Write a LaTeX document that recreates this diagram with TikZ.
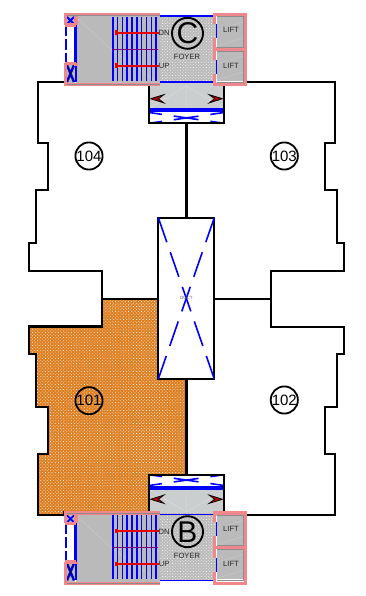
\documentclass[tikz,border=0pt]{standalone}
\usepackage{fontspec}
\setmainfont{Liberation Sans}
\usetikzlibrary{patterns.meta}
\definecolor{pinkwall}{RGB}{240,135,140}
\definecolor{coregrey}{RGB}{186,186,186}
\definecolor{lobbygrey}{RGB}{202,206,206}
\definecolor{floorbrown}{RGB}{222,125,30}

\begin{document}
\begin{tikzpicture}[x=1pt, y=-1pt,
    wall/.style={line width=2.1pt, line join=miter},
    flat/.style={pattern={Dots[distance=2.3pt, radius=0.55pt, angle=45]}, pattern color=white},
    stairline/.style={blue, line width=1.6pt},
    pinkline/.style={pinkwall, line width=3.2pt},
    ghost/.style={white!25!coregrey, line width=0.4pt},
    xdash/.style={blue, line width=1.6pt},
    flatno/.style={circle, draw, line width=1.8pt, minimum size=25pt, inner sep=0pt, font=\fontsize{15}{15}\selectfont},
    tiny/.style={inner sep=0pt, text=black!85, font=\fontsize{7.6}{7.6}\selectfont}]
    \useasboundingbox (0,0) rectangle (366,596);

    % flat 101
    \fill[floorbrown] (102,299) -- (158,299) -- (158,379) -- (186.5,379) -- (186.5,474) -- (149,474) -- (149,512) -- (64,512) -- (64,515) -- (38.3,515) -- (38.3,454) -- (48,454) -- (48,407.3) -- (35.7,407.3) -- (35.7,354.3) -- (28.7,354.3) -- (28.7,326.5) -- (102,326.5) -- cycle;
    \fill[flat] (102,299) -- (158,299) -- (158,379) -- (186.5,379) -- (186.5,474) -- (149,474) -- (149,512) -- (64,512) -- (64,515) -- (38.3,515) -- (38.3,454) -- (48,454) -- (48,407.3) -- (35.7,407.3) -- (35.7,354.3) -- (28.7,354.3) -- (28.7,326.5) -- (102,326.5) -- cycle;

    % outer walls
    \draw[wall] (64,82.3) -- (38.3,82.3) -- (38.3,143) -- (48,143) -- (48,190) -- (35.7,190) -- (35.7,242.7) -- (28.7,242.7) -- (28.7,270.7) -- (102,270.7) -- (102,299) -- (158,299);
    \draw[wall] (158,379) -- (186.5,379) -- (186.5,474) (149,474) -- (149,512) -- (64,512) -- (64,515) -- (38.3,515) -- (38.3,454) -- (48,454) -- (48,407.3) -- (35.7,407.3) -- (35.7,354.3) -- (28.7,354.3) -- (28.7,326.5) -- (102,326.5) -- (102,299);
    \draw[wall] (246,82.3) -- (335,82.3) -- (335,143) -- (325,143) -- (325,190) -- (337.3,190) -- (337.3,242.7) -- (344.3,242.7) -- (344.3,270.7) -- (271,270.7) -- (271,326.7) -- (344.3,326.7) -- (344.3,354) -- (337.3,354) -- (337.3,407.3) -- (325,407.3) -- (325,454) -- (335,454) -- (335,515) -- (224,515);
    \draw[wall] (214.3,299) -- (271,299);
    \draw[wall] (186.5,123.3) -- (186.5,218);

    % duct
    \node[draw, line width=1.7pt, minimum width=56pt, minimum height=161.3pt, inner sep=0pt, outer sep=0pt] (duct) at (186.3,298.3) {};
    \draw[xdash, dash pattern=on 26pt off 10.6pt] (duct.north west) -- (duct.south east);
    \draw[xdash, dash pattern=on 26pt off 10.6pt] (duct.north east) -- (duct.south west);
    \node[inner sep=0pt, text=black!60, font=\fontsize{4.5}{4.5}\selectfont] (ducttag) at (duct.center) {DUCT};

    % lift lobbies
    \foreach \flip/\off/\tag in {1/0/top, -1/598/low} {
      \begin{scope}[shift={(0,\off)}, yscale=\flip]
        \fill[white] (149,82) rectangle (224,123.3);
        \fill[lobbygrey] (149,82) rectangle (224,108);
        \draw[white!35!lobbygrey, line width=0.4pt] (186.5,86) -- (186.5,108) (186.5,86) -- (224,108) (186.5,86) -- (150,108);
        \draw[blue, line width=3.6pt] (149,110.2) -- (224,110.2);
        \coordinate (lobby\tag a) at (149,112.5);
        \coordinate (lobby\tag b) at (224,123.3);
        \coordinate (lobby\tag c) at (149,123.3);
        \coordinate (lobby\tag d) at (224,112.5);
        \draw[xdash, dash pattern=on 25pt off 12pt, dash phase=12pt] (lobby\tag a) -- (lobby\tag b);
        \draw[xdash, dash pattern=on 25pt off 12pt, dash phase=12pt] (lobby\tag c) -- (lobby\tag d);
        \draw[wall] (149,82) -- (149,123.3) -- (224,123.3) -- (224,82);
        \draw[black, fill=red!65!black, line width=0.7pt] (150.5,98.7) -- (164,94.6) -- (158.5,98.7) -- (164,103) -- cycle;
        \draw[black, fill=red!65!black, line width=0.7pt] (222.5,98.7) -- (209,94.6) -- (214.5,98.7) -- (209,103) -- cycle;
      \end{scope}
    }

    % stair and lift cores
    \foreach \yoff/\tag in {0/C, 498.4/B} {
      \begin{scope}[shift={(0,\yoff)}]
        % foyer
        \fill[coregrey] (160,15) rectangle (216,83);
        \fill[flat] (160,15) rectangle (216,83);
        \draw[blue, line width=1.8pt] (159,16) -- (214,16) (159,82) -- (214,82);
        % stair hall
        \fill[coregrey] (76,15) rectangle (160,84);
        \draw[ghost] (77,18) -- (112,50) (112,50) -- (160,84);
        \fill[white] (65,25) rectangle (75,63);
        \draw[blue, line width=2pt, dash pattern=on 11pt off 3pt] (65.6,25) -- (65.6,64);
        \draw[blue, line width=2.4pt] (75.6,17) -- (75.6,82);
        \foreach \s in {0,...,9}
          \draw[stairline] ({112.7+4.83*\s},17) -- ({112.7+4.83*\s},81);
        \draw[violet, line width=1.2pt] (112,49.2) -- (158,49.2);
        \foreach \ry in {32.7,65.7} {
          \draw[red!90!black, line width=1.8pt] (116,\ry) -- (159,\ry);
          \fill[red!90!black] (114.5,\ry-2.2) rectangle (118,\ry+2.2);
        }
        % stair hall frame and small shafts
        \fill[coregrey] (65,16) rectangle (75,24);
        \fill[coregrey] (65,64) rectangle (75,84);
        \draw[blue, line width=1.8pt] (67,17) -- (74,24) (74,17) -- (67,24);
        \draw[blue, line width=2.4pt] (67,65) -- (74,82) (74,65) -- (67,82);
        \draw[black, line width=0.4pt] (67,65) -- (74,82) (74,65) -- (67,82);
        \draw[pinkline] (65.2,25) -- (65.2,14.6) -- (160,14.6) (65.2,25) -- (76,25) (76,14.6) -- (76,25);
        \draw[pinkline] (65.2,63.5) -- (76,63.5) (76,63.5) -- (76,66) (65.2,63.5) -- (65.2,84.8) -- (160,84.8);
        \draw[black!45, line width=0.6pt] (67,15) -- (160,15) (67,84.5) -- (160,84.5);
        % lifts
        \fill[coregrey] (217,17) rectangle (243,47);
        \fill[coregrey] (217,51) rectangle (243,81);
        \draw[ghost] (217,30) -- (243,22) (217,46) -- (243,38) (217,64) -- (243,56) (217,80) -- (243,72);
        \draw[blue, line width=1.8pt] (216.4,24) -- (216.4,38) (216.4,60) -- (216.4,74);
        \draw[pinkline] (214.4,24) -- (214.4,14.6) -- (245.4,14.6) -- (245.4,84.8) -- (214.4,84.8) -- (214.4,74);
        \draw[pinkline] (214.4,38) -- (214.4,60) (214.4,49) -- (245.4,49);
        \draw[black!45, line width=0.6pt] (217,16.6) -- (243,16.6) -- (243,47) -- (217,47) (217,51) -- (243,51) -- (243,82.2) -- (217,82.2);
        \node[tiny] (liftone\tag) at (231,30) {LIFT};
        \node[tiny] (lifttwo\tag) at (231,65.5) {LIFT};
        % labels
        \node[tiny] (dn\tag) at (164.2,33) {DN};
        \node[tiny] (up\tag) at (164.2,66) {UP};
        \node[circle, draw, line width=1.9pt, minimum size=31pt, inner sep=0pt, font=\fontsize{30}{30}\selectfont] (badge\tag) at (187.5,33.3) {\tag};
        \node[tiny] (foyer\tag) at (187,57) {FOYER};
      \end{scope}
    }

    \node[flatno] (f101) at (89,400.7) {101};
    \node[flatno] (f102) at (284.3,400) {102};
    \node[flatno] (f103) at (284.3,156) {103};
    \node[flatno] (f104) at (89,156) {104};
\end{tikzpicture}
\end{document}
